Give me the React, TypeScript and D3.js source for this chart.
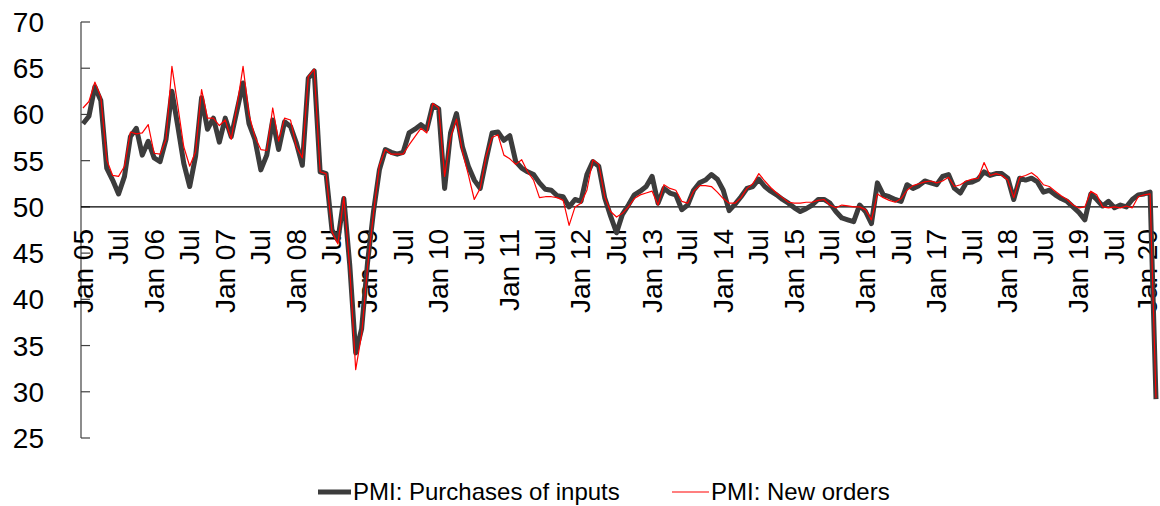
import React from "react";
import * as d3 from "d3";

// Monthly observations, Jan 2005 .. Feb 2020
const purchases: number[] = [
  59.0, 59.8, 63.0, 61.5, 54.2, 52.9, 51.4, 53.3, 57.6, 58.5, 55.6, 57.1,
  55.3, 54.9, 57.3, 62.5, 58.7, 54.7, 52.2, 55.5, 61.8, 58.4, 59.6, 57.0,
  59.6, 57.6, 60.5, 63.4, 59.0, 57.3, 54.0, 55.6, 59.4, 56.2, 59.2, 58.7,
  56.9, 54.5, 63.9, 64.7, 53.8, 53.6, 47.5, 46.4, 50.9, 43.7, 34.2, 36.8,
  44.0, 49.5, 54.0, 56.2, 55.9, 55.7, 55.9, 58.0, 58.4, 58.9, 58.4, 61.0,
  60.6, 52.0, 58.0, 60.1, 56.5, 54.4, 52.9, 52.0, 55.1, 58.0, 58.1, 57.2,
  57.7, 54.9, 54.2, 53.8, 53.5, 52.6, 51.9, 51.8, 51.2, 51.1, 50.0, 50.8,
  50.6, 53.5, 54.9, 54.4, 51.0, 49.0, 47.2, 49.2, 50.2, 51.3, 51.7, 52.2,
  53.3, 50.4, 52.0, 51.5, 51.3, 49.7, 50.2, 51.8, 52.6, 52.9, 53.5, 53.0,
  51.8, 49.6, 50.3, 51.1, 52.0, 52.2, 53.0, 52.2, 51.7, 51.3, 50.8, 50.4,
  49.9, 49.5, 49.8, 50.2, 50.8, 50.8, 50.4, 49.5, 48.8, 48.6, 48.4, 50.2,
  49.5, 48.2, 52.6, 51.3, 51.1, 50.8, 50.6, 52.4, 52.0, 52.3, 52.8, 52.6,
  52.4, 53.3, 53.5, 52.0, 51.5, 52.6, 52.7, 53.0, 53.8, 53.4, 53.6, 53.6,
  53.1, 50.8, 53.1, 52.9, 53.1, 52.7, 51.6, 51.8, 51.3, 50.9, 50.6, 50.0,
  49.4, 48.6, 51.4, 50.8, 50.1, 50.6, 49.9, 50.2, 50.0, 50.8, 51.3, 51.4,
  51.6, 29.2,
];

const newOrders: number[] = [
  60.7, 61.4, 63.5, 61.9, 55.1, 53.4, 53.3, 54.4, 58.1, 57.9, 58.0, 58.9,
  55.8, 55.7, 57.3, 65.2, 60.9, 56.5, 54.4, 56.0, 62.7, 59.6, 59.6, 58.8,
  59.4, 57.3, 61.0, 65.2, 60.0, 57.6, 56.2, 56.1, 60.7, 57.1, 59.6, 59.4,
  56.5, 55.3, 64.1, 64.9, 53.8, 53.6, 47.3, 46.0, 51.1, 43.3, 32.4, 36.2,
  43.5, 49.3, 54.5, 56.2, 55.7, 55.7, 55.7, 56.7, 57.6, 58.5, 58.0, 61.2,
  60.7, 53.3, 57.5, 59.5, 56.0, 53.5, 50.8, 52.0, 55.5, 57.5, 57.8, 55.6,
  55.2, 54.6, 55.1, 53.8, 52.9, 51.0, 51.1, 51.1, 51.0, 50.7, 48.0, 50.0,
  50.4, 51.8, 55.1, 54.6, 51.1, 49.5, 48.9, 49.3, 50.0, 50.9, 51.3, 51.5,
  51.7, 50.2, 52.4, 52.0, 51.8, 50.6, 50.4, 51.7, 52.3, 52.3, 52.2, 51.6,
  50.9, 50.4, 50.4, 51.0, 52.0, 52.5, 53.6, 52.8, 52.1, 51.5, 51.0, 50.5,
  50.4, 50.4, 50.5, 50.5, 50.7, 50.8, 50.2, 49.9, 50.2, 50.1, 50.0, 50.0,
  49.7, 48.6, 51.4, 51.0, 50.7, 50.5, 50.9, 51.8, 52.3, 52.5, 52.7, 52.8,
  52.6, 52.8, 53.2, 52.2, 52.4, 52.8, 53.0, 53.1, 54.8, 53.4, 53.6, 53.4,
  52.9, 51.0, 53.2, 53.4, 53.7, 53.2, 52.4, 52.2, 51.7, 51.2, 50.8, 50.2,
  49.9, 50.0, 51.7, 51.3, 50.0, 49.9, 50.0, 49.9, 50.1, 49.9, 51.1, 51.3,
  51.4, 29.3,
];

const tickLabels: string[] = [
  "Jan 05", "Jul", "Jan 06", "Jul", "Jan 07", "Jul", "Jan 08", "Jul",
  "Jan 09", "Jul", "Jan 10", "Jul", "Jan 11", "Jul", "Jan 12", "Jul",
  "Jan 13", "Jul", "Jan 14", "Jul", "Jan 15", "Jul", "Jan 16", "Jul",
  "Jan 17", "Jul", "Jan 18", "Jul", "Jan 19", "Jul", "Jan 20",
];
const tickStep = 6;
const yTicks: number[] = [25, 30, 35, 40, 45, 50, 55, 60, 65, 70];
const seriesNames: string[] = ["PMI: Purchases of inputs", "PMI: New orders"];

const FONT = "'Liberation Sans', Arial, sans-serif";

export default function App() {
  const W = 1160;
  const H = 506;
  const x = d3.scaleLinear().domain([0, purchases.length - 1]).range([83, 1156]);
  const y = d3.scaleLinear().domain([25, 70]).range([438, 22]);
  const line = d3
    .line<number>()
    .x((_, i) => x(i))
    .y((d) => y(d));

  const axisX = 81;

  return (
    <svg
      width={W}
      height={H}
      style={{ position: "absolute", left: 0, top: 0, background: "#fff" }}
      fontFamily={FONT}
    >
      {/* y axis */}
      <line x1={axisX} x2={axisX} y1={y(70)} y2={y(25)} stroke="#404040" strokeWidth={1.2} />
      {yTicks.map((t) => (
        <g key={t}>
          <line x1={axisX} x2={axisX + 9} y1={y(t)} y2={y(t)} stroke="#404040" strokeWidth={1.2} />
          <text x={44} y={y(t) + 10} textAnchor="end" fontSize={28} fill="#000">
            {t}
          </text>
        </g>
      ))}
      {/* category axis at 50 */}
      <line x1={axisX} x2={1158} y1={y(50)} y2={y(50)} stroke="#000" strokeWidth={1.2} />
      {tickLabels.map((lab, k) => {
        const xi = Math.min(x(k * tickStep), 1147);
        return (
          <text
            key={k}
            transform={`translate(${xi},229) rotate(-90)`}
            textAnchor="end"
            dominantBaseline="central"
            fontSize={28}
            fill="#000"
          >
            {lab}
          </text>
        );
      })}
      {/* series */}
      <path
        d={line(purchases) || ""}
        fill="none"
        stroke="#3c3c3c"
        strokeWidth={5}
        strokeLinejoin="round"
      />
      <path
        d={line(newOrders) || ""}
        fill="none"
        stroke="#ff0000"
        strokeWidth={1.2}
        strokeLinejoin="round"
      />
      {/* legend */}
      <line x1={318} x2={351} y1={492} y2={492} stroke="#3c3c3c" strokeWidth={5} />
      <text x={353} y={500} fontSize={24} fill="#000">
        {seriesNames[0]}
      </text>
      <line x1={672} x2={709} y1={492} y2={492} stroke="#ff0000" strokeWidth={1.2} />
      <text x={711} y={500} fontSize={24} fill="#000">
        {seriesNames[1]}
      </text>
    </svg>
  );
}
